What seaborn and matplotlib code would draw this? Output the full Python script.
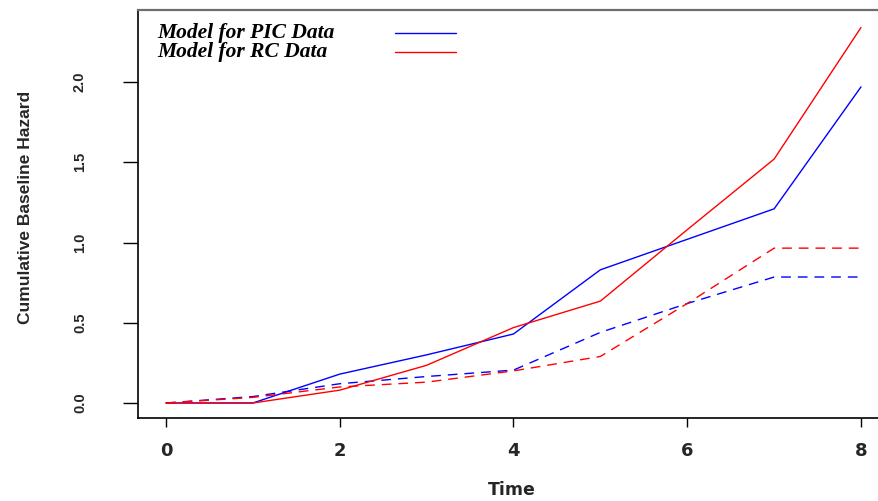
import numpy as np
import pandas as pd
import matplotlib
matplotlib.use("Agg")
import matplotlib.pyplot as plt
import seaborn as sns
from matplotlib.lines import Line2D

# values
time = [0, 1, 2, 3, 4, 5, 6, 7, 8]
pic_solid = [0.0, 0.0, 0.18, 0.30, 0.43, 0.83, 1.02, 1.21, 1.97]
rc_solid = [0.0, 0.0, 0.08, 0.235, 0.47, 0.635, 1.08, 1.52, 2.34]
pic_dashed = [0.0, 0.04, 0.12, 0.165, 0.205, 0.44, 0.62, 0.785, 0.785]
rc_dashed = [0.0, 0.035, 0.10, 0.13, 0.20, 0.29, 0.62, 0.965, 0.965]

models = ["Model for PIC Data", "Model for RC Data"]
colors = {"Model for PIC Data": "#0000FF", "Model for RC Data": "#FF0000"}

frames = []
for name, vals, curve in [(models[0], pic_solid, "solid"), (models[1], rc_solid, "solid"),
                          (models[0], pic_dashed, "dashed"), (models[1], rc_dashed, "dashed")]:
    frames.append(pd.DataFrame({"time": time, "hazard": vals, "model": name,
                                "curve": curve, "line": name + " " + curve}))
df = pd.concat(frames, ignore_index=True)

sns.set_style("ticks")
plt.rcParams["font.family"] = ["Liberation Sans", "DejaVu Sans"]

fig = plt.figure(figsize=(8.79, 5.01), dpi=100)
ax = fig.add_axes([138 / 879, 83 / 501, 741 / 879, 408 / 501])

sns.lineplot(data=df, x="time", y="hazard", hue="model", style="curve", units="line",
             estimator=None, palette=colors, dashes={"solid": "", "dashed": (7, 5)},
             linewidth=1.0, legend=False, ax=ax)

ax.set_xlim(-0.322, 8.207)
ax.set_ylim(-0.0935, 2.449)
ax.set_xticks([0, 2, 4, 6, 8])
ax.set_xticklabels(["0", "2", "4", "6", "8"])
ax.set_yticks([0.0, 0.5, 1.0, 1.5, 2.0])
ax.set_yticklabels(["0.0", "0.5", "1.0", "1.5", "2.0"])

ax.tick_params(axis="x", direction="out", length=6.5, width=1, pad=11, color="black")
ax.tick_params(axis="y", direction="out", length=10.8, width=1, pad=26,
               labelrotation=90, color="black")
for lab in ax.get_xticklabels():
    lab.set_fontfamily("DejaVu Sans")
    lab.set_fontweight("bold")
    lab.set_fontsize(13)
for lab in ax.get_yticklabels():
    lab.set_fontweight("bold")
    lab.set_fontsize(10.5)
    lab.set_va("center")

ax.set_xlabel("Time", fontsize=12.5, fontweight="bold", family="DejaVu Sans", va="center")
ax.set_ylabel("Cumulative Baseline Hazard", fontsize=12.5, fontweight="bold", va="center")
ax.xaxis.set_label_coords(0.505, -0.177)
ax.yaxis.set_label_coords(-0.152, 0.515)

for side in ["left", "bottom"]:
    ax.spines[side].set_color("black")
    ax.spines[side].set_linewidth(1.2)
ax.spines["top"].set_color("#6e6e6e")
ax.spines["top"].set_linewidth(1.6)
ax.spines["right"].set_visible(False)

# legend: text left-aligned, line key to the right of it
leg_font = {"family": "Liberation Serif", "weight": "bold", "style": "italic", "size": 15.5}
for i, m in enumerate(models):
    y_ax = (418 - (33 + 18.5 * i)) / 408
    ax.text(0.0256, y_ax, m, transform=ax.transAxes, va="center", ha="left",
            color="black", **leg_font)
    ax.add_line(Line2D([0.3468, 0.4291], [y_ax, y_ax], transform=ax.transAxes,
                       color=colors[m], lw=1.0))

fig.savefig("out.png", dpi=100)
